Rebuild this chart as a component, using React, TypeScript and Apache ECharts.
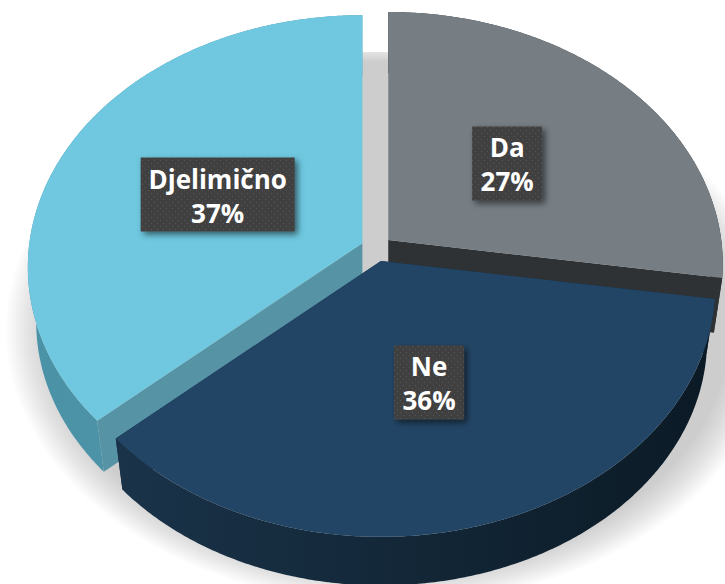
import React, { useEffect, useRef } from "react";
import * as echarts from "echarts";

const categories = ["Da", "Ne", "Djelimično"];
const values = [27.4, 36, 36.6];

const topColors = ["#767E84", "#234565", "#6FC8E0"];
const sideWallColors = ["#2E3235", "#1A2F44", "#5593A5"];
const outerWallColors: [string, string][] = [
  ["#2E3235", "#2E3235"],
  ["#1A3349", "#0B1A25"],
  ["#4A92A7", "#5797A9"],
];
const labelBoxWidths = [70, 70, 154];
const stackOrder = [20, 30, 10];

// projection of the pie plane
const W = 725;
const H = 584;
const CENTER = { x: 376.5, y: 248.5 };
const A = 333;
const B = 249.7;
const P = 0.095;
const EXPLODE_X = 15.5;
const EXPLODE_Y = 13;
const DEPTH = 55.5;
const BOTTOM_SCALE = 0.975;
const LABEL_RADIUS = 0.485;
const LABEL_BOX_H = 74;

const total = values.reduce((a, b) => a + b, 0);
const startAngles: number[] = [];
values.reduce((acc, v) => {
  startAngles.push((acc / total) * 360);
  return acc + v;
}, 0);

const unit = (deg: number) => {
  const r = (deg * Math.PI) / 180;
  return { u: Math.sin(r), v: -Math.cos(r) };
};

function project(apex: { x: number; y: number }, u: number, v: number, lower: boolean, k = 1): number[] {
  const d = 1 - P * v * k;
  const s = lower ? BOTTOM_SCALE : 1;
  return [apex.x + (s * A * u * k) / d, apex.y + (lower ? DEPTH : 0) + (s * B * v * k) / d];
}

function arcPoints(apex: { x: number; y: number }, a0: number, a1: number, lower: boolean): number[][] {
  const pts: number[][] = [];
  const n = Math.max(2, Math.ceil(a1 - a0) * 2);
  for (let i = 0; i <= n; i++) {
    const { u, v } = unit(a0 + ((a1 - a0) * i) / n);
    pts.push(project(apex, u, v, lower));
  }
  return pts;
}

function makeDots(): string {
  const c = document.createElement("canvas");
  c.width = 6;
  c.height = 6;
  const g = c.getContext("2d")!;
  g.fillStyle = "#414141";
  g.fillRect(0, 0, 6, 6);
  g.fillStyle = "#585858";
  g.fillRect(1, 1, 1, 1);
  g.fillRect(4, 4, 1, 1);
  return c.toDataURL("image/png");
}

export default function App() {
  const ref = useRef<HTMLDivElement>(null);
  useEffect(() => {
    document.body.style.margin = "0";
    const chart = echarts.init(ref.current!, undefined, { renderer: "svg" });
    const dots = makeDots();
    const renderItem = (params: any, api: any) => {
      const i = params.dataIndex;
      const value = api.value(0);
      const a0 = startAngles[i];
      const a1 = a0 + (value / total) * 360;
      const mid = unit((a0 + a1) / 2);
      const apex = { x: CENTER.x + EXPLODE_X * mid.u, y: CENTER.y + EXPLODE_Y * mid.v };
      const z = stackOrder[i];

      const topArc = arcPoints(apex, a0, a1, false);
      const lowArc = arcPoints(apex, a0, a1, true);
      const apexTop = [apex.x, apex.y];
      const apexLow = [apex.x, apex.y + DEPTH];

      const poly = (points: number[][], fill: any, z2: number) => ({
        type: "polygon",
        z2,
        silent: true,
        shape: { points },
        style: { fill, stroke: null },
      });

      const grad = new echarts.graphic.LinearGradient(0, 0, 1, 0, [
        { offset: 0, color: outerWallColors[i][0] },
        { offset: 1, color: outerWallColors[i][1] },
      ]);

      const lp = project(apex, mid.u, mid.v, false, LABEL_RADIUS);
      const bw = labelBoxWidths[i];
      const children: any[] = [
        poly([apexTop, topArc[0], lowArc[0], apexLow], sideWallColors[i], z),
        poly([apexTop, topArc[topArc.length - 1], lowArc[lowArc.length - 1], apexLow], sideWallColors[i], z),
        poly([...topArc, ...lowArc.slice().reverse()], grad, z + 1),
        poly([apexTop, ...topArc], topColors[i], z + 2),
        {
          type: "rect",
          z2: 100,
          silent: true,
          shape: { x: lp[0] - bw / 2, y: lp[1] - LABEL_BOX_H / 2, width: bw, height: LABEL_BOX_H },
          style: {
            fill: { image: dots, repeat: "repeat", imageWidth: 6, imageHeight: 6 },
            shadowBlur: 6,
            shadowColor: "rgba(0,0,0,0.55)",
            shadowOffsetX: 3,
            shadowOffsetY: 3,
          },
        },
        {
          type: "text",
          z2: 101,
          silent: true,
          style: {
            x: lp[0],
            y: lp[1] + 1,
            text: `${categories[i]}\n${Math.round(value)}%`,
            fill: "#FFFFFF",
            font: "bold 26px 'Open Sans', sans-serif",
            lineHeight: 34,
            align: "center",
            verticalAlign: "middle",
          },
        },
      ];
      return { type: "group", children };
    };

    chart.setOption({
      animation: false,
      backgroundColor: "#FFFFFF",
      graphic: [
        {
          type: "ellipse",
          z: 0,
          silent: true,
          shape: { cx: 390, cy: 330, rx: 385, ry: 275 },
          style: {
            fill: new echarts.graphic.RadialGradient(0.5, 0.5, 0.5, [
              { offset: 0, color: "#CDCDCD" },
              { offset: 0.88, color: "#CDCDCD" },
              { offset: 0.94, color: "#E3E3E3" },
              { offset: 1, color: "#FFFFFF" },
            ]),
          },
        },
        {
          type: "rect",
          z: 1,
          silent: true,
          shape: { x: 350, y: 52, width: 50, height: 240 },
          style: {
            fill: new echarts.graphic.LinearGradient(0, 0, 0, 1, [
              { offset: 0, color: "#E4E4E4" },
              { offset: 0.04, color: "#CDCDCD" },
              { offset: 1, color: "#CDCDCD" },
            ]),
          },
        },
      ],
      series: [
        {
          type: "custom",
          coordinateSystem: "none",
          silent: true,
          z: 5,
          clip: false,
          renderItem,
          data: values.map((v, i) => ({ name: categories[i], value: [v] })),
        },
      ],
    });
    return () => chart.dispose();
  }, []);
  return <div ref={ref} style={{ width: W, height: H }} />;
}
